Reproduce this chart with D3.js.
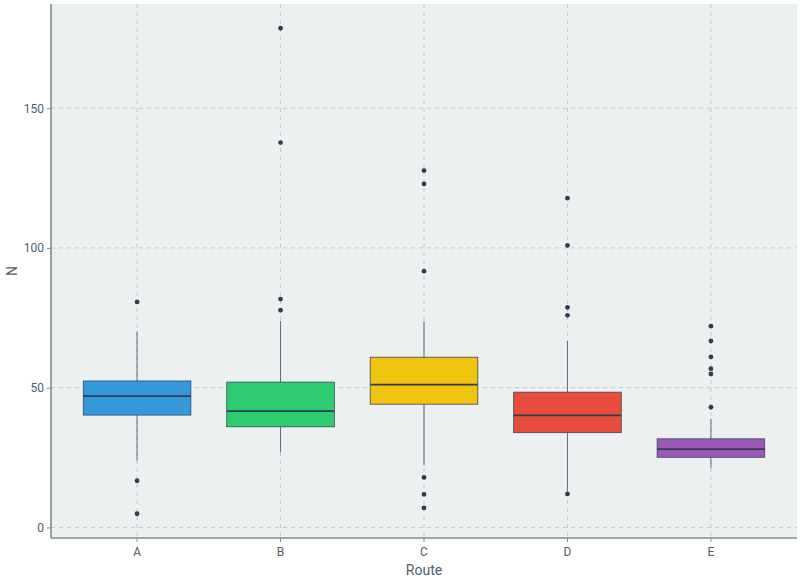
<!DOCTYPE html>
<html>
<head>
<meta charset="utf-8">
<script src="https://cdn.jsdelivr.net/npm/d3@7"></script>
<style>
  body { margin: 0; background: #fff; }
  text { font-family: "Liberation Sans Narrow", "Roboto", sans-serif; }
</style>
</head>
<body>
<div id="chart"></div>
<script>
// box stats
var routes = ["A", "B", "C", "D", "E"];
var q1 = [40.2, 36.0, 44.1, 33.9, 25.1];
var median = [47.0, 41.6, 51.1, 40.1, 28.0];
var q3 = [52.4, 52.0, 60.9, 48.4, 31.7];
var whiskLow = [23.9, 26.9, 22.2, 12.9, 21.3];
var whiskHigh = [70.1, 73.9, 73.8, 66.7, 38.9];
var outliers = [
  [80.7, 16.7, 4.9],
  [81.7, 77.7, 137.7, 178.6],
  [127.7, 122.9, 91.7, 17.9, 11.8, 7.0],
  [117.8, 100.9, 78.7, 75.9, 12.0],
  [72.0, 66.7, 61.0, 56.8, 54.9, 43.0]
];
var yTicks = [0, 50, 100, 150];
var fills = ["#3498db", "#2ecc71", "#f1c40f", "#e74c3c", "#9b59b6"];

var svgWidth = 800, svgHeight = 583;
// panel edges (top is a window property, so p-prefixed)
var pLeft = 51, pRight = 797, pTop = 4, pBottom = 538;

var svg = d3.select("#chart").append("svg")
  .attr("width", svgWidth)
  .attr("height", svgHeight);

var boxes = routes.map(function(r, i) {
  return { route: r, q1: q1[i], med: median[i], q3: q3[i],
           lo: whiskLow[i], hi: whiskHigh[i], out: outliers[i], fill: fills[i] };
});

var allVals = [].concat.apply([], outliers).concat(whiskLow, whiskHigh);
var ymin = d3.min(allVals), ymax = d3.max(allVals);
var pad = (ymax - ymin) * 0.05;

var y = d3.scaleLinear().domain([ymin - pad, ymax + pad]).range([pBottom, pTop]);
var x = d3.scaleBand().domain(routes).range([pLeft, pRight])
  .paddingInner(0.25).paddingOuter(0.225);
var cx = d => x(d) + x.bandwidth() / 2;

// panel
svg.append("rect")
  .attr("x", pLeft).attr("y", pTop)
  .attr("width", pRight - pLeft).attr("height", pBottom - pTop)
  .attr("fill", "#ecf0f1");

// grid
svg.append("g").selectAll("line").data(yTicks).enter().append("line")
  .attr("x1", pLeft).attr("x2", pRight)
  .attr("y1", d => y(d)).attr("y2", d => y(d))
  .attr("stroke", "#c3c8cc").attr("stroke-dasharray", "4,4");
svg.append("g").selectAll("line").data(routes).enter().append("line")
  .attr("x1", d => cx(d)).attr("x2", d => cx(d))
  .attr("y1", pTop).attr("y2", pBottom)
  .attr("stroke", "#c3c8cc").attr("stroke-dasharray", "4,4");

var g = svg.append("g").selectAll("g").data(boxes).enter().append("g");

// whiskers
g.append("line")
  .attr("x1", d => cx(d.route)).attr("x2", d => cx(d.route))
  .attr("y1", d => y(d.hi)).attr("y2", d => y(d.q3))
  .attr("stroke", "#5d6d7e").attr("stroke-width", 1);
g.append("line")
  .attr("x1", d => cx(d.route)).attr("x2", d => cx(d.route))
  .attr("y1", d => y(d.q1)).attr("y2", d => y(d.lo))
  .attr("stroke", "#5d6d7e").attr("stroke-width", 1);

// boxes
g.append("rect")
  .attr("x", d => x(d.route)).attr("width", x.bandwidth())
  .attr("y", d => y(d.q3)).attr("height", d => y(d.q1) - y(d.q3))
  .attr("fill", d => d.fill)
  .attr("stroke", "#34495e").attr("stroke-width", 0.8);
g.append("line")
  .attr("x1", d => x(d.route)).attr("x2", d => x(d.route) + x.bandwidth())
  .attr("y1", d => y(d.med)).attr("y2", d => y(d.med))
  .attr("stroke", "#2c3e50").attr("stroke-width", 1.8);

// outliers
g.selectAll("circle").data(d => d.out.map(v => ({ route: d.route, v: v }))).enter()
  .append("circle")
  .attr("cx", d => cx(d.route))
  .attr("cy", d => y(d.v))
  .attr("r", 2.4)
  .attr("fill", "#2c3e50");

// axes
var leftAxis = d3.axisLeft(y).tickValues(yTicks).tickSize(4).tickPadding(3);
var bottomAxis = d3.axisBottom(x).tickSize(4).tickPadding(5);

var ya = svg.append("g").attr("transform", `translate(${pLeft},0)`).call(leftAxis);
var xa = svg.append("g").attr("transform", `translate(0,${pBottom})`).call(bottomAxis);
[ya, xa].forEach(function(a) {
  a.select(".domain").remove();
  a.selectAll(".tick line").attr("stroke", "#7f8c8d");
  a.selectAll(".tick text").attr("fill", "#4e5d6c").attr("font-size", 12)
    .style("font-family", '"Liberation Sans Narrow", "Roboto", sans-serif');
});

svg.append("line").attr("x1", pLeft).attr("x2", pLeft).attr("y1", pTop).attr("y2", pBottom)
  .attr("stroke", "#7f8c8d").attr("stroke-width", 1.6);
svg.append("line").attr("x1", pLeft).attr("x2", pRight).attr("y1", pBottom).attr("y2", pBottom)
  .attr("stroke", "#7f8c8d").attr("stroke-width", 1.6);

svg.append("text")
  .attr("x", (pLeft + pRight) / 2).attr("y", 575)
  .attr("text-anchor", "middle")
  .attr("fill", "#4e5d6c").attr("font-size", 14)
  .text("Route");

svg.append("text")
  .attr("transform", `translate(17,${(pTop + pBottom) / 2}) rotate(-90)`)
  .attr("text-anchor", "middle")
  .attr("fill", "#4e5d6c").attr("font-size", 14)
  .text("N");
</script>
</body>
</html>
